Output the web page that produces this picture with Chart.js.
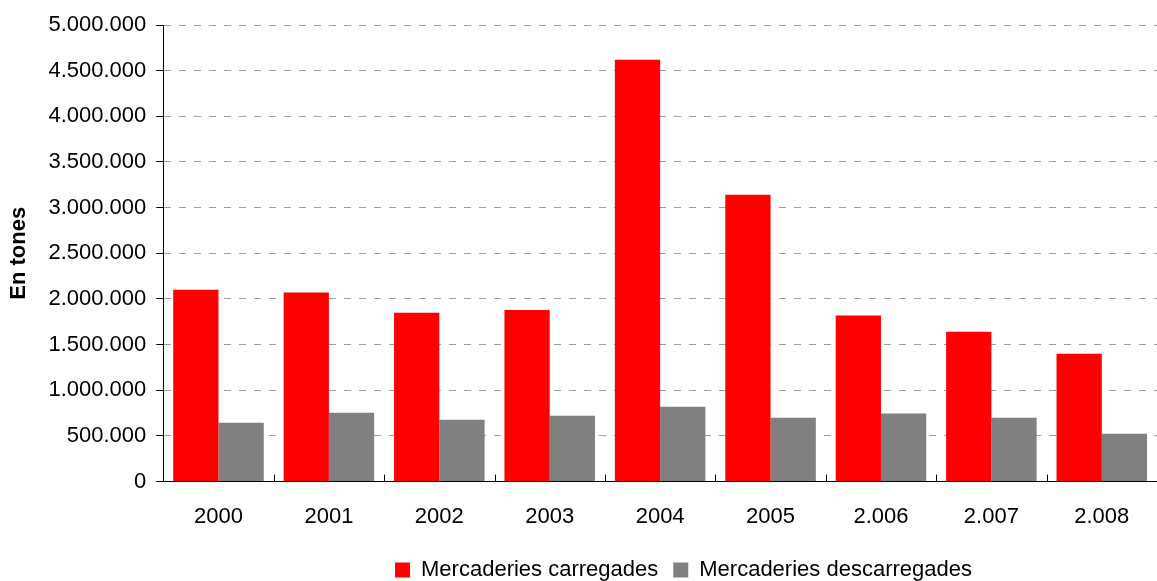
<!DOCTYPE html>
<html>
<head>
<meta charset="utf-8">
<script src="https://cdn.jsdelivr.net/npm/chart.js@4/dist/chart.umd.min.js"></script>
<style>
  html, body { margin: 0; padding: 0; background: #ffffff; overflow: hidden; }
  #wrap { width: 1157px; height: 581px; }
</style>
</head>
<body>
<div id="wrap"><canvas id="portChart" width="1157" height="581"></canvas></div>
<script>
// Dades (tones)
const years = ['2000', '2001', '2002', '2003', '2004', '2005', '2.006', '2.007', '2.008'];
const carregades = [2100000, 2070000, 1850000, 1880000, 4620000, 3140000, 1820000, 1640000, 1400000];
const descarregades = [645000, 755000, 678000, 720000, 820000, 700000, 745000, 700000, 525000];
const seriesNames = ['Mercaderies carregades', 'Mercaderies descarregades'];
const yMax = 5000000;
const yStep = 500000;

const FONT = 'Liberation Sans, Arial, sans-serif';
const LEGEND_SHIFT = 102; // la llegenda original no està centrada

function dots(v) {
    return String(v).replace(/\B(?=(\d{3})+(?!\d))/g, '.');
}

// petites marques cap amunt entre categories
const innerTicks = {
    id: 'innerTicks',
    afterLayout(chart) {
        if (chart.legend) {
            chart.legend.left += LEGEND_SHIFT;
            chart.legend.right += LEGEND_SHIFT;
        }
    },
    afterDraw(chart) {
        const x = chart.scales.x;
        const area = chart.chartArea;
        const ctx = chart.ctx;
        const half = (x.getPixelForValue(1) - x.getPixelForValue(0)) / 2;
        ctx.save();
        ctx.strokeStyle = '#000000';
        ctx.lineWidth = 1;
        for (let i = 0; i < years.length - 1; i++) {
            const px = Math.round(x.getPixelForValue(i) + half) + 0.5;
            ctx.beginPath();
            ctx.moveTo(px, area.bottom - 7);
            ctx.lineTo(px, area.bottom);
            ctx.stroke();
        }
        ctx.restore();
    }
};

const ctxPort = document.getElementById('portChart').getContext('2d');
const portChart = new Chart(ctxPort, {
    type: 'bar',
    data: {
        labels: years,
        datasets: [{
            label: seriesNames[0],
            data: carregades,
            backgroundColor: '#FF0000',
            borderWidth: 0,
            categoryPercentage: 0.82,
            barPercentage: 1.0
        }, {
            label: seriesNames[1],
            data: descarregades,
            backgroundColor: '#808080',
            borderWidth: 0,
            categoryPercentage: 0.82,
            barPercentage: 1.0
        }]
    },
    options: {
        responsive: false,
        animation: false,
        layout: { padding: { left: 6, right: 0, top: 25, bottom: -10 } },
        font: { family: FONT },
        scales: {
            y: {
                min: 0,
                max: yMax,
                ticks: {
                    stepSize: yStep,
                    padding: 10,
                    color: '#000000',
                    font: { family: FONT, size: 22 },
                    callback: function(value) { return dots(value); }
                },
                grid: { color: '#A0A0A0', tickColor: '#000000', tickLength: 7, lineWidth: 1 },
                border: { display: true, color: '#000000', width: 1, dash: [7, 8] },
                title: {
                    display: true,
                    text: 'En tones',
                    color: '#000000',
                    padding: { top: 0, bottom: 6 },
                    font: { family: FONT, size: 22, weight: 'bold' }
                }
            },
            x: {
                grid: { display: false },
                border: { display: true, color: '#000000', width: 1 },
                ticks: {
                    padding: 14,
                    color: '#000000',
                    font: { family: FONT, size: 22 }
                }
            }
        },
        plugins: {
            legend: {
                position: 'bottom',
                labels: {
                    boxWidth: 15,
                    boxHeight: 15,
                    padding: 15,
                    color: '#000000',
                    font: { family: FONT, size: 22 }
                }
            },
            tooltip: { enabled: false }
        }
    },
    plugins: [innerTicks]
});
</script>
</body>
</html>
